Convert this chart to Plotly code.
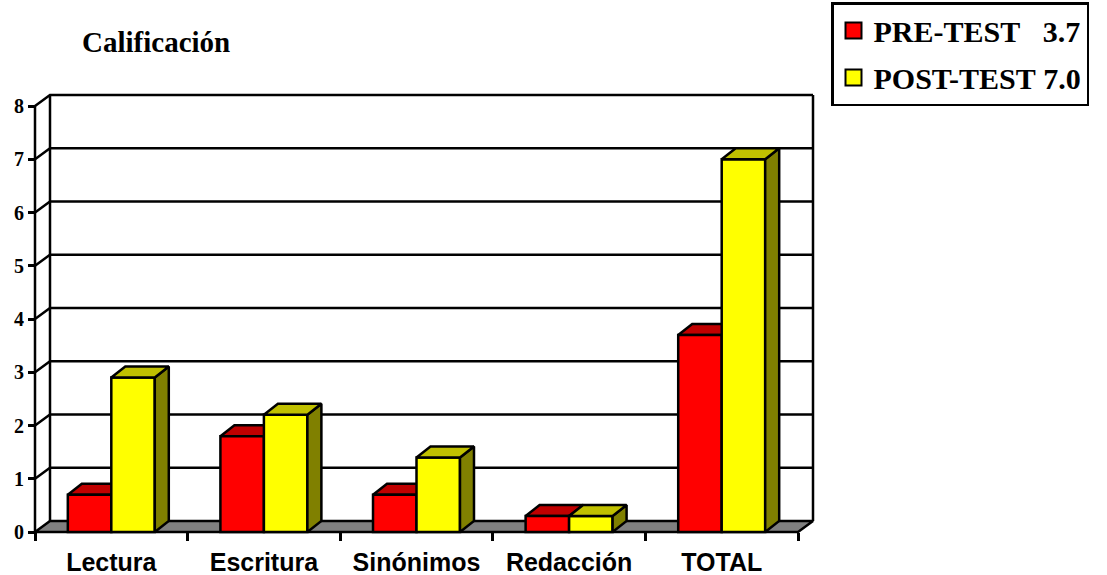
import plotly.graph_objects as go

# ---- data -------------------------------------------------------------
categories = ["Lectura", "Escritura", "Sinónimos", "Redacción", "TOTAL"]
pre_test = [0.7, 1.8, 0.7, 0.3, 3.7]
post_test = [2.9, 2.2, 1.4, 0.3, 7.0]
y_ticks = [0, 1, 2, 3, 4, 5, 6, 7, 8]
series_names = ["PRE-TEST", "POST-TEST"]
axis_title = "Calificación"

# ---- geometry (pixels) ------------------------------------------------
W, H = 1107, 575
PL, PR, PT, PB = 25, 825, 85, 545      # plotting frame
X0_PX, Y0_PX = 35, 532                  # front-left floor corner
KX = 152.6                              # px per category
KY = 53.25                              # px per value unit
X_RANGE = [(PL - X0_PX) / KX, (PR - X0_PX) / KX]
Y_RANGE = [(Y0_PX - PB) / KY, (Y0_PX - PT) / KY]

WALL_DX, WALL_DY = 15 / KX, 11 / KY     # depth of the chart box
BAR_DX, BAR_DY = 14 / KX, 11 / KY       # depth of each column
BAR_W = 0.285

RED, RED_TOP, RED_SIDE = "#FF0000", "#C00000", "#800000"
YEL, YEL_TOP, YEL_SIDE = "#FFFF00", "#C0C000", "#808000"
FLOOR = "#808080"
LW = 2.5

SERIF = "Liberation Serif, Times New Roman, serif"
SANS = "Liberation Sans, Arial, sans-serif"

n = len(categories)
ymax = y_ticks[-1]
centers = [i + 0.5 for i in range(n)]


def top_face(xl, xr, h):
    return [xl, xr, xr + BAR_DX, xl + BAR_DX, xl], [h, h, h + BAR_DY, h + BAR_DY, h]


def side_face(xr, h):
    return [xr, xr + BAR_DX, xr + BAR_DX, xr, xr], [0, BAR_DY, h + BAR_DY, h, 0]


def faces(values, left_off, kind):
    xs, ys = [], []
    for c, v in zip(centers, values):
        xl, xr = c + left_off, c + left_off + BAR_W
        fx, fy = top_face(xl, xr, v) if kind == "top" else side_face(xr, v)
        xs += fx + [None]
        ys += fy + [None]
    return xs, ys


def poly(xs, ys, fill, axes=("x", "y")):
    return go.Scatter(
        x=xs, y=ys, mode="lines", fill="toself", fillcolor=fill,
        line=dict(color="black", width=LW), hoverinfo="skip",
        showlegend=False, xaxis=axes[0], yaxis=axes[1],
    )


fig = go.Figure()

# floor of the box
fig.add_trace(poly([0, n, n + WALL_DX, WALL_DX, 0],
                   [0, 0, WALL_DY, WALL_DY, 0], FLOOR))

# back wall, left wall grid lines and box edges
gx, gy = [], []
for v in y_ticks[1:]:
    gx += [0, WALL_DX, n + WALL_DX, None]
    gy += [v, v + WALL_DY, v + WALL_DY, None]
gx += [WALL_DX, WALL_DX, None, n + WALL_DX, n + WALL_DX, None, 0, 0]
gy += [WALL_DY, ymax + WALL_DY, None, WALL_DY, ymax + WALL_DY, None, 0, ymax]
fig.add_trace(go.Scatter(x=gx, y=gy, mode="lines",
                         line=dict(color="black", width=LW),
                         hoverinfo="skip", showlegend=False))

# pre-test column tops/sides (sit behind the post-test fronts)
fig.add_trace(poly(*faces(pre_test, -BAR_W, "side"), RED_SIDE))
fig.add_trace(poly(*faces(pre_test, -BAR_W, "top"), RED_TOP))

# column fronts on the overlay subplot
fig.add_trace(go.Bar(x=centers, y=pre_test, width=BAR_W, offset=-BAR_W,
                     marker=dict(color=RED, line=dict(color="black", width=LW)),
                     name=series_names[0], showlegend=False,
                     xaxis="x2", yaxis="y2"))
fig.add_trace(go.Bar(x=centers, y=post_test, width=BAR_W, offset=0,
                     marker=dict(color=YEL, line=dict(color="black", width=LW)),
                     name=series_names[1], showlegend=False,
                     xaxis="x2", yaxis="y2"))
fig.add_trace(poly(*faces(post_test, 0, "side"), YEL_SIDE, ("x2", "y2")))
fig.add_trace(poly(*faces(post_test, 0, "top"), YEL_TOP, ("x2", "y2")))

# legend entries
legend_labels = [
    f"{series_names[0]}\u00a0\u00a0\u00a0{pre_test[-1]:.1f}",
    f"{series_names[1]}\u00a0{post_test[-1]:.1f}",
]
for label, col in zip(legend_labels, [RED, YEL]):
    fig.add_trace(go.Scatter(
        x=[None], y=[None], mode="markers", name=label, legendgroup=label,
        marker=dict(symbol="square", size=16, color=col,
                    line=dict(color="black", width=2)),
    ))

fig.add_annotation(
    text=axis_title, xref="paper", yref="paper",
    x=(80 - PL) / (PR - PL), y=(PB - 42) / (PB - PT),
    xanchor="left", yanchor="middle", showarrow=False,
    font=dict(family=SERIF, size=29, color="black", weight="bold"),
)

fig.update_layout(
    width=W, height=H,
    margin=dict(l=PL, r=W - PR, t=PT, b=H - PB, autoexpand=False),
    paper_bgcolor="white", plot_bgcolor="white",
    barmode="overlay",
    xaxis=dict(
        range=X_RANGE, anchor="free", automargin=False,
        position=(PB - Y0_PX) / (PB - PT),
        tickmode="array", tickvals=centers, ticktext=categories,
        ticks="outside", ticklen=8, tickcolor="rgba(0,0,0,0)",
        showgrid=False, zeroline=False, showline=False,
        tickfont=dict(family=SANS, size=25, color="black", weight="bold"),
        minor=dict(tickmode="array", tickvals=list(range(n + 1)),
                   ticks="outside", ticklen=8, tickwidth=LW,
                   tickcolor="black", showgrid=False),
        fixedrange=True,
    ),
    yaxis=dict(
        range=Y_RANGE, anchor="free", automargin=False,
        position=(X0_PX - PL) / (PR - PL),
        tickmode="array", tickvals=y_ticks,
        ticks="outside", ticklen=7, tickwidth=LW, tickcolor="black",
        showgrid=False, zeroline=False, showline=False,
        tickfont=dict(family=SERIF, size=20, color="black", weight="bold"),
        fixedrange=True,
    ),
    xaxis2=dict(overlaying="x", range=X_RANGE, visible=False, fixedrange=True),
    yaxis2=dict(overlaying="y", range=Y_RANGE, visible=False, fixedrange=True),
    legend=dict(
        xref="container", yref="container",
        x=831 / W, y=1 - 2 / H, xanchor="left", yanchor="top",
        bgcolor="white", bordercolor="black", borderwidth=LW,
        font=dict(family=SERIF, size=30, color="black", weight="bold"),
        tracegroupgap=5, itemsizing="trace",
    ),
    showlegend=True,
)

fig.write_html("out.html")
